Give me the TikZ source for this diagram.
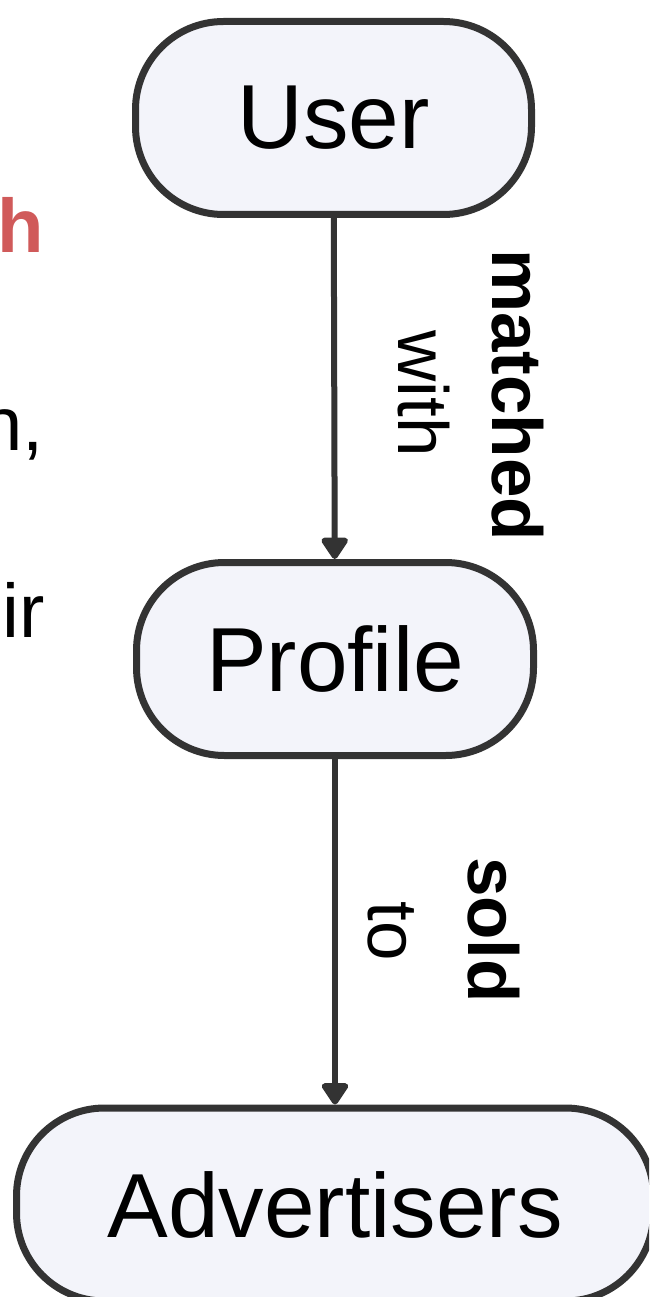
\documentclass[tikz,border=0pt]{standalone}
\usepackage{fontspec}
\setmainfont{Liberation Sans}
\usetikzlibrary{arrows.meta}
\definecolor{pillfill}{RGB}{243,244,250}
\definecolor{pilldraw}{RGB}{51,51,51}
\definecolor{redtxt}{RGB}{208,90,90}
\begin{document}
\begin{tikzpicture}[x=1pt,y=-1pt,
  pill/.style={draw=pilldraw, fill=pillfill, line width=7pt, rounded corners=88pt,
    minimum height=193pt, inner sep=0pt, font=\fontsize{91}{100}\selectfont},
  conn/.style={draw=pilldraw, line width=6pt, -{Triangle[width=30pt,length=24pt,round]}},
  lblb/.style={inner sep=0pt, anchor=base, rotate=-90, font=\bfseries\fontsize{71}{80}\selectfont},
  lblr/.style={inner sep=0pt, anchor=base, rotate=-90, font=\fontsize{71}{80}\selectfont},
  cut/.style={inner sep=0pt, anchor=base east, font=\fontsize{76}{80}\selectfont}]
\useasboundingbox (0,0) rectangle (649,1297);
\clip (0,0) rectangle (649,1297);
\fill[white] (0,0) rectangle (649,1297);
% cut-off text on the left
\node[cut, text=redtxt, font=\bfseries\fontsize{76}{80}\selectfont] (t1) at (44,252) {h};
\node[cut] (t2) at (44,450) {n,};
\node[cut] (t3) at (45,637) {eir};
% nodes
\node[pill, minimum width=396pt] (user) at (333.5,118) {User};
\node[pill, minimum width=397pt] (profile) at (335,659) {Profile};
\node[pill, minimum width=637pt] (adv) at (335,1204.5) {Advertisers};
% connectors
\draw[conn] (user) -- (profile);
\draw[conn] (profile) -- (adv);
% labels
\node[lblb] (l1) at (492,395) {matched};
\node[lblr] (l2) at (398,393.5) {with};
\node[lblb] (l3) at (468,930) {sold};
\node[lblr] (l4) at (368,931) {to};
\end{tikzpicture}
\end{document}
